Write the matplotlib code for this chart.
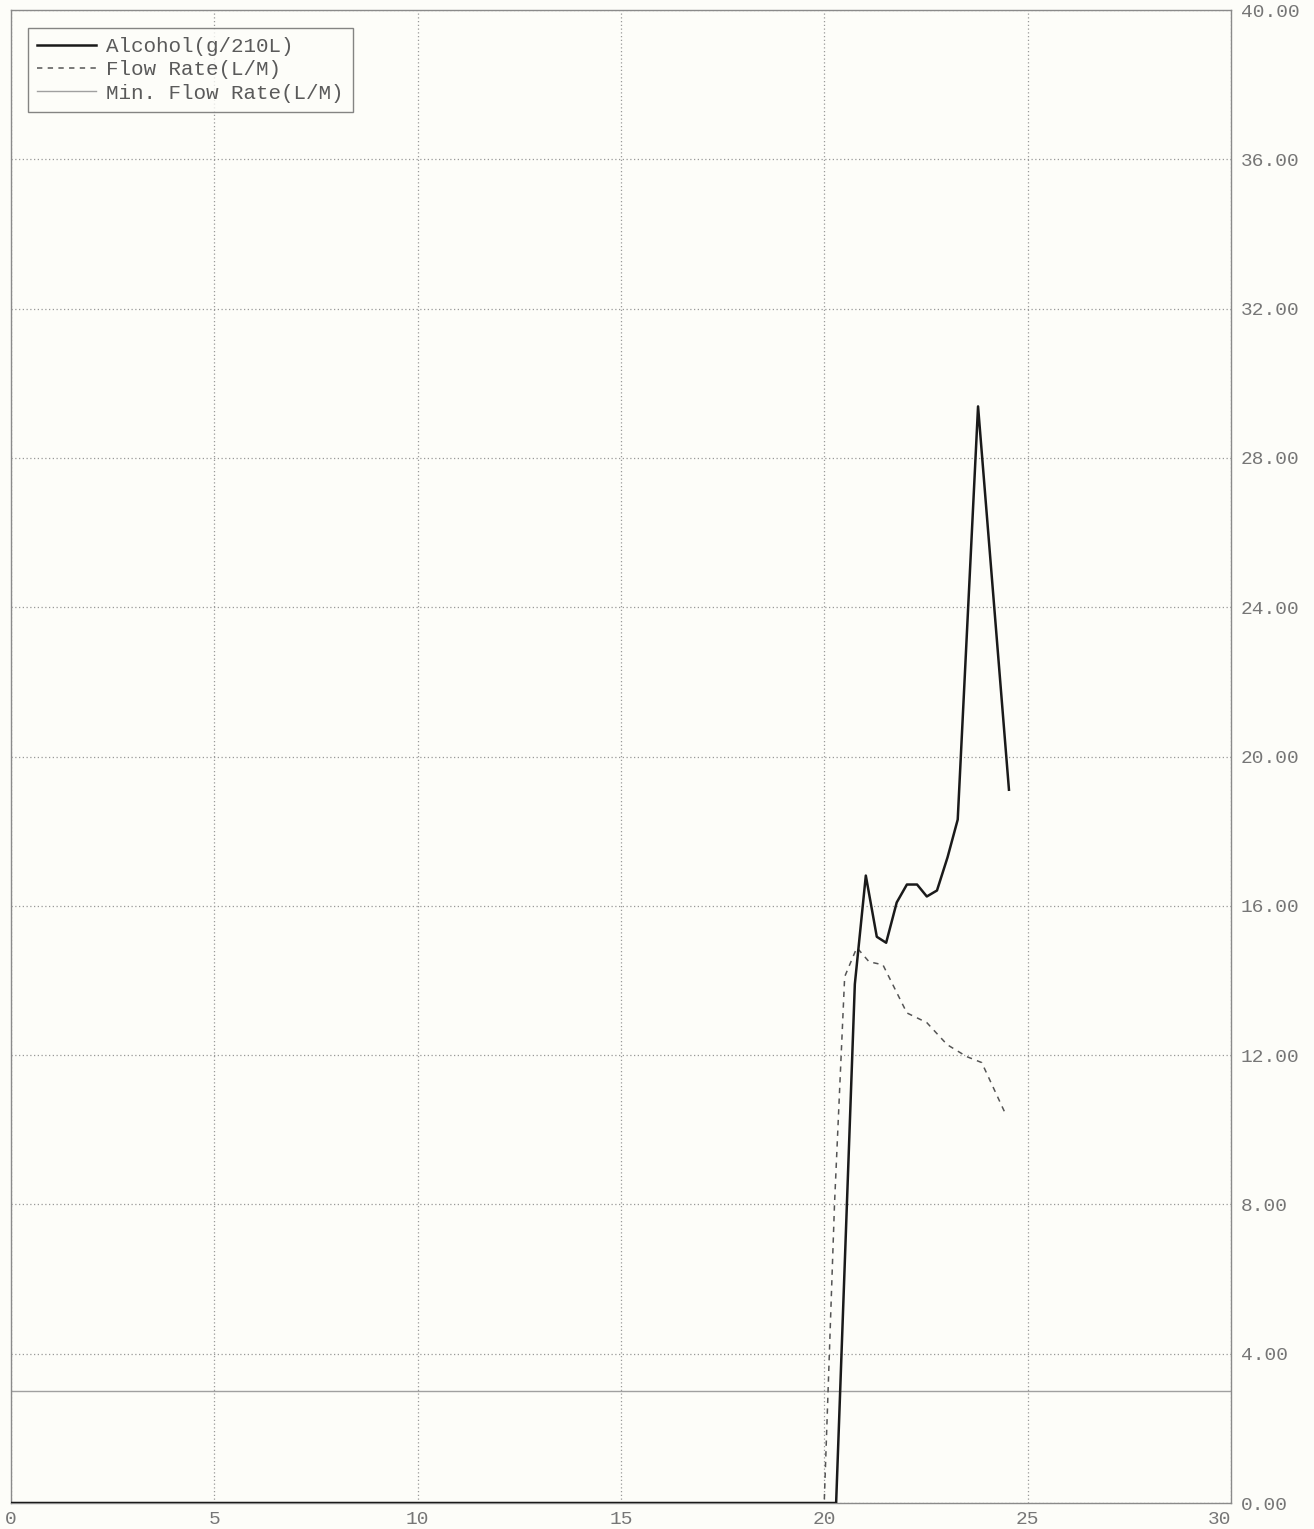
#!/bin/python3
"""Alcohol / flow rate breath test trace"""

import numpy as np
import matplotlib
matplotlib.use("Agg")
import matplotlib.pyplot as plt

# alcohol trace (x = time, y = g/210L)
alc_t = [0.0, 20.29, 20.75, 21.02, 21.29, 21.52, 21.78, 22.03, 22.28, 22.52, 22.77, 23.03, 23.28, 23.78, 24.54]
alc_v = [0.0, 0.0, 13.9, 16.81, 15.17, 15.01, 16.09, 16.57, 16.57, 16.25, 16.41, 17.3, 18.31, 29.38, 19.11]

# flow rate trace (L/M)
flow_t = [20.0, 20.25, 20.5, 20.8, 21.1, 21.44, 21.6, 22.03, 22.52, 23.02, 23.5, 23.87, 24.44]
flow_v = [0.1, 8.0, 14.1, 14.88, 14.5, 14.42, 14.07, 13.13, 12.87, 12.28, 11.96, 11.8, 10.46]

min_flow = 3.0

x_ticks = [0, 5, 10, 15, 20, 25, 30]
y_ticks = [0, 4, 8, 12, 16, 20, 24, 28, 32, 36, 40]

font = "Liberation Mono"
txt_col = "#767676"

fig = plt.figure(figsize=(13.14, 15.29), dpi=100)
fig.patch.set_facecolor("#fdfdf9")
ax = fig.add_axes([11/1314, 26/1529, 1220/1314, 1493/1529])
ax.set_facecolor("#fdfdf9")

ax.axhline(min_flow, color="#a0a0a0", lw=1.0, label="Min. Flow Rate(L/M)", zorder=2)
ax.plot(alc_t, alc_v, "-", color="#1a1a1a", lw=1.8, label="Alcohol(g/210L)", zorder=4)
ax.plot(flow_t, flow_v, "--", color="#555555", lw=1.1, dashes=(3.5, 3.5), label="Flow Rate(L/M)", zorder=3)

ax.set_xlim(0, 30)
ax.set_ylim(0, 40)
ax.set_xticks(x_ticks)
ax.set_yticks(y_ticks)
ax.set_xticklabels([str(v) for v in x_ticks])
ax.set_yticklabels(["%.2f" % v for v in y_ticks])
ax.yaxis.tick_right()
ax.tick_params(length=0, labelsize=14, labelcolor=txt_col)
ax.tick_params(axis="y", pad=7)
ax.tick_params(axis="x", pad=6)
for lab in ax.get_xticklabels() + ax.get_yticklabels():
    lab.set_family(font)
ax.get_xticklabels()[-1].set_horizontalalignment("right")

ax.grid(True, linestyle=(0, (1, 2)), color="#999999", lw=0.9)
for sp in ax.spines.values():
    sp.set_color("#8a8a8a")
    sp.set_linewidth(1.0)

handles, labels = ax.get_legend_handles_labels()
order = [1, 2, 0]
leg = ax.legend([handles[i] for i in order], [labels[i] for i in order],
                loc="upper left", bbox_to_anchor=(0.014, 0.988),
                prop={"family": font, "size": 15}, frameon=True, fancybox=False,
                handlelength=2.8, handletextpad=0.5, labelspacing=0.2,
                borderpad=0.45, borderaxespad=0)
leg.get_frame().set_edgecolor("#666666")
leg.get_frame().set_linewidth(1.0)
leg.get_frame().set_facecolor("#fdfdf9")
for t in leg.get_texts():
    t.set_color("#5a5a5a")

plt.savefig("out.png", dpi=100, facecolor=fig.get_facecolor())
